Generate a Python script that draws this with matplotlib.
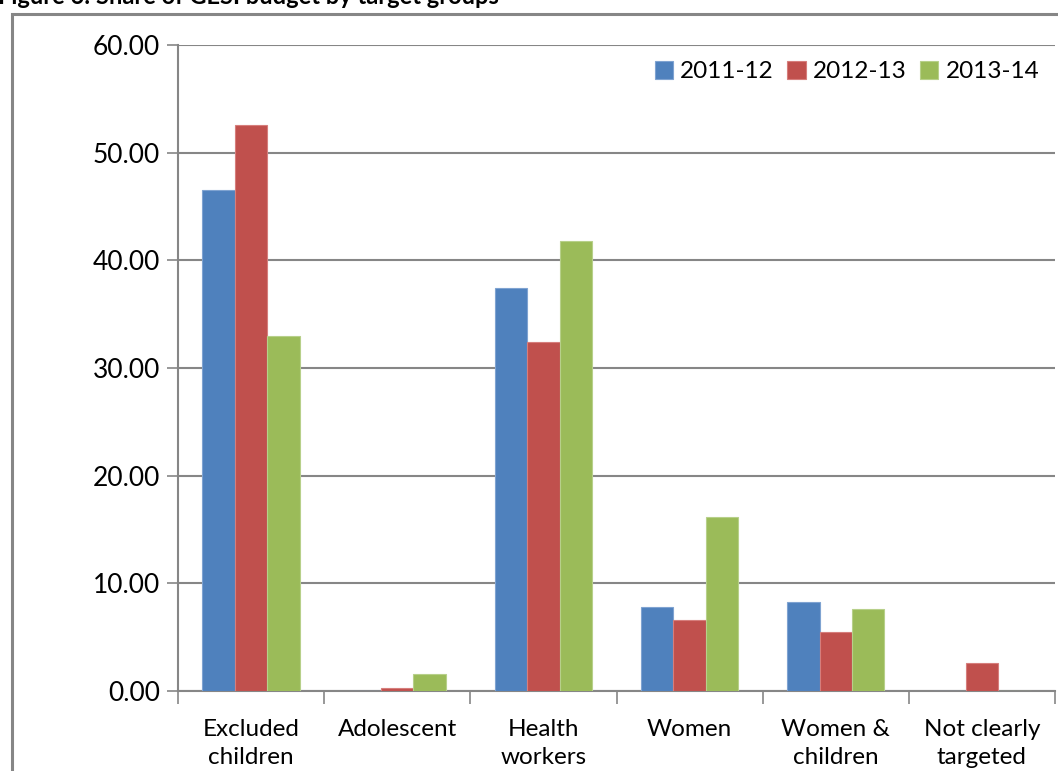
import numpy as np
import matplotlib.pyplot as plt
from matplotlib.patches import Rectangle

# Share of GESI budget by target group (%)
categories = ["Excluded\nchildren", "Adolescent", "Health\nworkers", "Women",
              "Women &\nchildren", "Not clearly\ntargeted"]
years = ["2011-12", "2012-13", "2013-14"]
share_2011 = [46.5, 0.0, 37.4, 7.8, 8.3, 0.0]
share_2012 = [52.6, 0.3, 32.4, 6.6, 5.5, 2.6]
share_2013 = [33.0, 1.6, 41.8, 16.2, 7.6, 0.0]
yticks = [0, 10, 20, 30, 40, 50, 60]

colors = ["#4F81BD", "#C0504D", "#9BBB59"]
edges = ["#7FA3D1", "#D67E7C", "#B7D08A"]
grid_c = "#868686"

plt.rcParams["font.family"] = ["Lato", "DejaVu Sans"]
fs = 17.5

fig = plt.figure(figsize=(10.58, 7.71), dpi=100)
ax = fig.add_axes([178 / 1058, 1 - 691 / 771, (1055 - 178) / 1058, (691 - 45) / 771])

# outer chart frame (runs off the right and bottom edges)
fig.patches.append(Rectangle((12 / 1058, -0.05), 1.1, 1 - 14 / 771 + 0.05,
                             transform=fig.transFigure, fill=False,
                             edgecolor=grid_c, linewidth=2.2, zorder=0))

fig.text(-0.002, 1 - 4 / 771, "Figure 6: Share of GESI budget by target groups",
         fontsize=17, fontweight="bold", ha="left", va="baseline")

x = np.arange(len(categories))
w = 0.222
for i, (vals, lab) in enumerate(zip([share_2011, share_2012, share_2013], years)):
    ax.bar(x + (i - 1) * w, vals, width=w, color=colors[i], edgecolor=edges[i],
           linewidth=0.8, label=lab, zorder=3)

ax.set_xlim(-0.5, len(categories) - 0.5)
ax.set_ylim(0, 60)
ax.set_yticks(yticks)
ax.set_yticklabels([f"{v:.2f}" for v in yticks], fontsize=19)
ax.yaxis.grid(True, color=grid_c, linewidth=1.5, zorder=0)
ax.set_axisbelow(True)

ax.set_xticks(x)
ax.set_xticklabels(categories, fontsize=fs, linespacing=1.45)
ax.tick_params(axis="x", which="major", length=0, pad=20)
ax.set_xticks(np.arange(-0.5, len(categories)), minor=True)
ax.tick_params(axis="x", which="minor", length=9, width=1.2, color=grid_c, direction="out")
ax.tick_params(axis="y", length=8, width=1.2, color=grid_c, pad=5)

for side in ["top", "right"]:
    ax.spines[side].set_visible(False)
for side in ["left", "bottom"]:
    ax.spines[side].set_color(grid_c)
    ax.spines[side].set_linewidth(1.5)

ax.legend(loc="upper right", ncol=3, frameon=False, fontsize=fs,
          handlelength=0.75, handleheight=0.75, handletextpad=0.3,
          columnspacing=0.55, bbox_to_anchor=(1.0, 1.0), borderaxespad=0.25)

fig.savefig("out.png", dpi=100)
